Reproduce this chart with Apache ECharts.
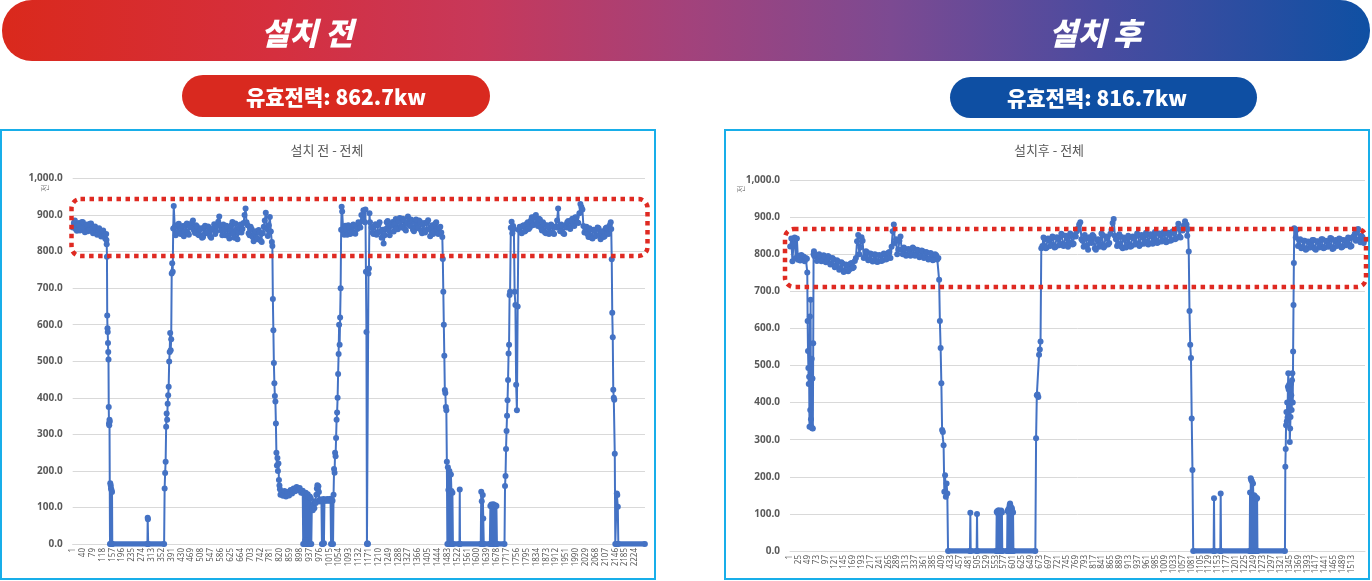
<!DOCTYPE html>
<html>
<head>
<meta charset="utf-8">
<script src="https://cdn.jsdelivr.net/npm/echarts@6/dist/echarts.min.js"></script>
<style>
    html, body { margin: 0; padding: 0; background: #fff; }
    #main { width: 1372px; height: 581px; }
</style>
</head>
<body>
<div id="main"></div>
<script>
    // x axis = sample no. ; labels stop at the last labelled sample of the original
    const beforeCount = 2263;
    const afterCount = 1548;
    const beforeLastLabel = 2224;
    const afterLastLabel = 1513;
    const yTicks = [0, 100, 200, 300, 400, 500, 600, 700, 800, 900, 1000];

    // ---- 설치 전 (first sample no. / spacing in the run table below)
    const beforeStart = [866, 878, 885, 861, 857, 874, 878, 858, 862, 881, 880, 864, 853, 870, 874, 856,
        859, 876, 877, 860, 850, 866, 869, 852, 846, 860, 864, 849, 841, 856, 858, 843, 836];
    const beforeDrop1 = [848, 832, 820, 786, 625, 590, 580, 550, 525, 505, 375, 330, 325, 340, 335, 0, 166, 0, 160, 152, 0, 148, 0, 142, 0];
    const beforeSpike1 = [0, 72, 68, 0];
    const beforeRise1 = [0, 152, 194, 225, 321, 357, 340, 384, 407, 430, 499, 525, 577, 530, 560, 740, 768, 745, 863, 925];
    const beforePlateau2 = [868, 845, 852, 874, 876, 850, 848, 866, 870, 842, 855, 873, 877, 851, 846, 868, 866, 879, 885, 858,
        851, 872, 869, 847, 845, 861, 864, 838, 840, 866, 871, 850, 852, 869, 866, 842, 838, 860, 862, 875,
        848, 856, 870, 882, 896, 870, 858, 845, 874, 860, 845, 871, 868, 843, 836, 858, 872, 881, 849, 838,
        877, 860, 834, 852, 866, 874, 852, 862, 878, 900, 918, 880, 872, 850, 845, 868, 862, 840, 828, 850,
        856, 838, 834, 859, 852, 830, 826, 850, 868, 885, 906, 862, 843, 872, 895, 855, 826];
    const beforeDrop2 = [815, 670, 585, 495, 440, 405, 390, 330, 250, 215, 235, 200, 220, 175, 160, 150, 135];
    const beforeLow = [140, 132, 145, 130, 142, 133, 148, 138, 152, 144, 156, 147, 153, 140, 146];
    const beforeFlicker = [0, 138, 0, 135, 10, 140, 0, 132, 0, 136, 0, 128, 0, 130, 0, 125, 0, 100];
    const beforeShelf = [100, 92, 104, 110, 98, 114, 117, 112, 135, 152, 161, 150, 158, 142, 120, 116, 122, 118, 121, 0,
        119, 0, 123, 2, 118, 120, 122, 119, 121, 118, 123, 120, 122, 119, 121, 118, 124, 0, 120, 0, 118, 0];
    const beforeRise2 = [135, 205, 195, 250, 240, 290, 340, 360, 400, 465, 520, 600, 545, 620, 700, 860, 923, 910];
    const beforePlateau3a = [858, 846, 871, 860, 846, 872, 866, 848, 852, 870, 874, 851, 849, 868, 862, 880, 878, 866, 900, 884, 913];
    const beforeDip = [880, 915, 745, 580, 0, 2, 0, 740, 754, 905, 880];
    const beforePlateau3b = [866, 852, 848, 870, 875, 846, 851, 874, 880, 856, 838, 860, 822, 845, 862, 880, 884, 858, 845, 870,
        872, 881, 855, 876, 889, 864, 861, 884, 892, 870, 866, 890, 887, 862, 858, 878, 896, 874, 870, 888,
        884, 860, 856, 880, 888, 868, 864, 885, 882, 858, 850, 874, 878, 852, 859, 880, 886, 862, 842, 866,
        872, 848, 855, 876, 880, 858, 848, 865, 868, 852, 840];
    const beforeDrop3 = [780, 690, 600, 515, 421, 413, 375, 366, 225, 0, 210, 148, 0, 200, 139, 0, 190, 145, 0, 140, 0];
    const beforeSpike2 = [0, 149, 0];
    const beforeSpike3 = [0, 143, 117, 0, 134, 70, 0];
    const beforeBlock = [0, 104, 0, 108, 2, 105, 0, 109, 0, 102, 0, 106, 0, 104, 0];
    const beforeRise3 = [0, 159, 186, 260, 309, 351, 393, 449, 521, 545, 681, 690];
    const beforeRebound = [865, 882, 850, 870, 862, 690, 654, 436, 366, 650, 860];
    const beforePlateau4 = [868, 852, 850, 871, 872, 855, 858, 876, 880, 862, 866, 885, 894, 872, 874, 896, 900, 878, 870, 890,
        888, 865, 858, 880, 875, 852, 850, 872, 868, 848, 853, 874, 871, 850, 848, 868, 866, 885, 918, 870,
        856, 874, 870, 850, 848, 872, 866, 880, 884, 866, 862, 885, 890, 872, 870, 894, 893, 880, 878, 905,
        930, 922, 915, 870, 852, 862, 868, 848, 840, 864, 860, 838, 836, 860, 858, 842, 845, 866, 864, 846,
        834, 852, 856, 840, 842, 864, 866, 850, 848, 872, 880];
    const beforeDrop4 = [862, 779, 633, 566, 422, 400, 395, 247, 0];
    const beforeSpike4 = [0, 138, 134, 102, 0];
    const beforeEnd = [0];

    // [first sample no., sample spacing, values]
    const beforeRuns = [
        [1, 4, beforeStart], [133, 1, beforeDrop1], [296, 1, beforeSpike1], [362, 2, beforeRise1],
        [404, 4, beforePlateau2], [790, 2, beforeDrop2], [826, 6, beforeLow], [912, 2, beforeFlicker],
        [948, 2, beforeShelf], [1032, 2, beforeRise2], [1070, 4, beforePlateau3a], [1156, 2, beforeDip],
        [1182, 4, beforePlateau3b], [1464, 2, beforeDrop3], [1530, 1, beforeSpike2], [1614, 2, beforeSpike3],
        [1650, 2, beforeBlock], [1708, 2, beforeRise3], [1733, 3, beforeRebound], [1768, 4, beforePlateau4],
        [2130, 2, beforeDrop4], [2150, 2, beforeSpike4], [2263, 1, beforeEnd]
    ];
    // stretches sitting on 0 (drawn as the thick base band)
    const beforeZeroRuns = [[157, 362], [1504, 1708], [2146, 2263]];

    // ---- 설치 후
    const afterStart = [821, 842, 781, 828, 845, 790, 842, 785, 796, 783, 798, 786, 794, 781, 790, 788];
    const afterDip = [751, 620, 539, 493, 450, 470, 335, 632, 380, 677, 355, 335, 518, 331, 465, 330, 560, 800, 808, 795];
    const afterPlateau1 = [798, 782, 785, 800, 796, 781, 783, 797, 794, 778, 780, 795, 792, 772, 775, 790, 786, 765, 768, 784,
        780, 758, 762, 778, 775, 752, 755, 772, 770, 754, 758, 774, 776, 762, 765, 782, 790, 835, 852, 800,
        818, 846, 836, 790, 792, 808, 805, 784, 786, 802, 800, 780, 783, 800, 798, 779, 780, 798, 796, 782,
        784, 802, 800, 786, 788, 804, 806, 790, 820, 862, 880, 830, 840, 800, 812, 836, 848, 812, 800, 818,
        814, 796, 798, 814, 812, 796, 800, 818, 815, 796, 798, 812, 810, 792, 795, 810, 808, 790, 792, 806,
        804, 786, 788, 803, 800, 784, 786, 800, 797, 786, 790];
    const afterDrop1 = [731, 620, 547, 452, 326, 321, 285, 160, 204, 146, 182, 155, 0];
    const afterSpike1 = [0, 103, 0];
    const afterSpike2 = [0, 100, 0];
    const afterBlock1 = [0, 105, 0, 108, 102, 0, 110, 104, 0, 107, 106, 0, 105, 109, 0, 104, 0];
    const afterBlock2 = [0, 108, 0, 112, 105, 0, 118, 125, 128, 0, 120, 112, 0, 115, 108, 0, 104, 0];
    const afterRise1 = [0, 304, 420, 422, 415, 529, 543, 565, 816];
    const afterPlateau2 = [822, 845, 840, 816, 818, 842, 838, 822, 826, 848, 845, 818, 820, 846, 842, 824, 828, 855, 852, 822,
        826, 850, 846, 820, 832, 856, 850, 826, 828, 852, 848, 862, 870, 880, 886, 840, 836, 820, 852, 842,
        824, 812, 846, 838, 830, 852, 848, 816, 812, 838, 840, 820, 826, 856, 852, 818, 822, 848, 842, 826,
        830, 855, 866, 884, 895, 850, 840, 822, 828, 854, 848, 820, 816, 845, 840, 818, 826, 850, 846, 820,
        822, 848, 842, 826, 830, 856, 850, 822, 826, 852, 845, 828, 834, 858, 852, 826, 830, 854, 848, 828,
        836, 860, 855, 830, 832, 856, 850, 834, 838, 860, 856, 832, 834, 858, 852, 836, 838, 862, 860, 840,
        842, 870, 882, 848, 845, 868, 864, 878, 889];
    const afterDrop2 = [880, 850, 868, 807, 647, 556, 520, 357, 218, 0];
    const afterSpike3 = [0, 142, 0];
    const afterSpike4 = [0, 155, 0];
    const afterBlock3 = [0, 158, 0, 196, 192, 0, 188, 150, 0, 182, 145, 0, 150, 148, 0, 146, 0, 144, 140, 0, 142, 0];
    const afterRise2 = [0, 227, 275, 339, 375, 350, 400, 360, 443, 479, 435, 448, 390, 294, 330, 361, 451, 420, 380, 460,
        479, 400, 538, 663, 776, 870];
    const afterPlateau3 = [845, 866, 822, 838, 840, 816, 818, 836, 836, 812, 815, 834, 832, 818, 820, 838, 838, 815, 812, 835,
        834, 818, 822, 840, 840, 816, 818, 836, 835, 820, 824, 844, 842, 814, 816, 836, 838, 822, 826, 842,
        840, 818, 820, 838, 836, 824, 828, 845, 842, 820, 822, 846, 848, 855, 836, 860, 868, 840, 832, 850,
        846, 830, 838];

    const afterRuns = [
        [1, 3, afterStart], [47, 1, afterDip], [70, 3, afterPlateau1], [402, 2, afterDrop1],
        [485, 1, afterSpike1], [503, 1, afterSpike2], [556, 1, afterBlock1], [585, 1, afterBlock2],
        [661, 2, afterRise1], [680, 3, afterPlateau2], [1068, 2, afterDrop2], [1141, 1, afterSpike3],
        [1159, 1, afterSpike4], [1238, 1, afterBlock3], [1333, 1, afterRise2], [1362, 3, afterPlateau3]
    ];
    const afterZeroRuns = [[426, 661], [1086, 1333]];

    const lineColor = '#4472c4';
    const gray = '#595959';

    // sample no. -> category index
    function toPoints(runs) {
        const pts = [];
        runs.forEach(([start, step, vals]) => {
            vals.forEach((v, i) => pts.push([start - 1 + i * step, v]));
        });
        return pts;
    }

    function categories(n) {
        const arr = [];
        for (let i = 1; i <= n; i++) arr.push(String(i));
        return arr;
    }

    function xAxisOf(gridIndex, count, every, lastLabel) {
        return {
            type: 'category', gridIndex: gridIndex, data: categories(count), boundaryGap: true,
            axisTick: { show: false },
            axisLine: { lineStyle: { color: '#d9d9d9' } },
            axisLabel: {
                interval: (i) => i % every === 0 && i <= lastLabel - 1,
                rotate: 90, fontSize: 8, color: gray, margin: 4, fontFamily: '"Noto Sans", sans-serif'
            }
        };
    }

    function yAxisOf(gridIndex) {
        return {
            type: 'value', gridIndex: gridIndex,
            min: yTicks[0], max: yTicks[yTicks.length - 1], interval: yTicks[1] - yTicks[0],
            axisLine: { show: false }, axisTick: { show: false },
            axisLabel: {
                formatter: v => v.toLocaleString('en-US', { minimumFractionDigits: 1, maximumFractionDigits: 1 }),
                color: gray, fontSize: 10, fontWeight: 'bold', margin: 10, fontFamily: '"Noto Sans", sans-serif'
            },
            splitLine: { lineStyle: { color: '#d9d9d9', width: 1 } }
        };
    }

    function mainSeries(idx, runs) {
        return {
            type: 'line', xAxisIndex: idx, yAxisIndex: idx, data: toPoints(runs),
            symbol: 'circle', symbolSize: 6, showSymbol: true, showAllSymbol: true,
            lineStyle: { color: lineColor, width: 2 }, itemStyle: { color: lineColor },
            animation: false, silent: true, z: 3
        };
    }

    function zeroSeries(idx, zeroRuns) {
        return zeroRuns.map(([a, b]) => ({
            type: 'line', xAxisIndex: idx, yAxisIndex: idx, data: [[a - 1, 0], [b - 1, 0]],
            symbol: 'none', lineStyle: { color: lineColor, width: 5.5 },
            animation: false, silent: true, z: 3
        }));
    }

    const kr = '"Noto Sans CJK KR", sans-serif';

    function text(x, y, str, font, fill, extra) {
        return Object.assign({
            type: 'text', x: x, y: y, z: 50,
            style: { text: str, font: font, fill: fill, textAlign: 'center', textVerticalAlign: 'middle', align: 'center', verticalAlign: 'middle' }
        }, extra || {});
    }

    function bannerText(x, str) {
        return {
            type: 'text', x: x, y: 33, z: 50,
            style: {
                text: str, font: 'italic 900 31px ' + kr, fill: '#fff',
                textAlign: 'center', textVerticalAlign: 'middle', align: 'center', verticalAlign: 'middle',
                shadowColor: 'rgba(0,0,0,0.3)', shadowOffsetX: 1.5, shadowOffsetY: 1.5
            }
        };
    }

    const chart = echarts.init(document.getElementById('main'));
    chart.setOption({
        animation: false,
        grid: [
            { left: 72.7, top: 178.5, width: 572.3, height: 365.5 },
            { left: 790, top: 180, width: 575, height: 371 }
        ],
        xAxis: [xAxisOf(0, beforeCount, 39, beforeLastLabel), xAxisOf(1, afterCount, 24, afterLastLabel)],
        yAxis: [yAxisOf(0), yAxisOf(1)],
        series: [].concat(
            [mainSeries(0, beforeRuns)], zeroSeries(0, beforeZeroRuns),
            [mainSeries(1, afterRuns)], zeroSeries(1, afterZeroRuns)
        ),
        graphic: [
            {
                type: 'rect', z: 10,
                shape: { x: 2, y: 0, width: 1368, height: 61, r: 30 },
                style: {
                    fill: new echarts.graphic.LinearGradient(0, 0, 1, 0, [
                        { offset: 0, color: '#da291c' },
                        { offset: 0.2, color: '#d52f3e' },
                        { offset: 0.35, color: '#c7385a' },
                        { offset: 0.5, color: '#a3427b' },
                        { offset: 0.65, color: '#7c4a92' },
                        { offset: 0.8, color: '#4b4b9f' },
                        { offset: 1, color: '#0f50a3' }
                    ])
                }
            },
            bannerText(307, '설치 전'),
            bannerText(1095, '설치 후'),
            { type: 'rect', z: 10, shape: { x: 182, y: 75, width: 308, height: 42, r: 21 }, style: { fill: '#d9291f' } },
            text(336, 97, '유효전력: 862.7kw', '900 21px ' + kr, '#fff'),
            { type: 'rect', z: 10, shape: { x: 950, y: 77, width: 307, height: 41, r: 20.5 }, style: { fill: '#0e4fa3' } },
            text(1097, 98, '유효전력: 816.7kw', '900 21px ' + kr, '#fff'),
            // chart frames
            { type: 'rect', z: 1, shape: { x: 1, y: 130, width: 654, height: 449 }, style: { fill: 'none', stroke: '#18aee9', lineWidth: 2 } },
            { type: 'rect', z: 1, shape: { x: 725, y: 130, width: 644, height: 449 }, style: { fill: 'none', stroke: '#18aee9', lineWidth: 2 } },
            text(327, 150, '설치 전 - 전체', '13px ' + kr, gray),
            text(1049, 150, '설치후 - 전체', '13px ' + kr, gray),
            text(45, 188, '전', '8px ' + kr, '#808080', { rotation: Math.PI / 2 }),
            text(741, 189, '전', '8px ' + kr, '#808080', { rotation: Math.PI / 2 }),
            // highlighted bands
            { type: 'rect', z: 100, shape: { x: 71.5, y: 199, width: 576, height: 57, r: 9 },
              style: { fill: 'none', stroke: '#df2a22', lineWidth: 4.5, lineDash: [4.5, 4.5] } },
            { type: 'rect', z: 100, shape: { x: 785, y: 229, width: 581, height: 58, r: 9 },
              style: { fill: 'none', stroke: '#df2a22', lineWidth: 4.5, lineDash: [4.5, 4.5] } }
        ]
    });
</script>
</body>
</html>
